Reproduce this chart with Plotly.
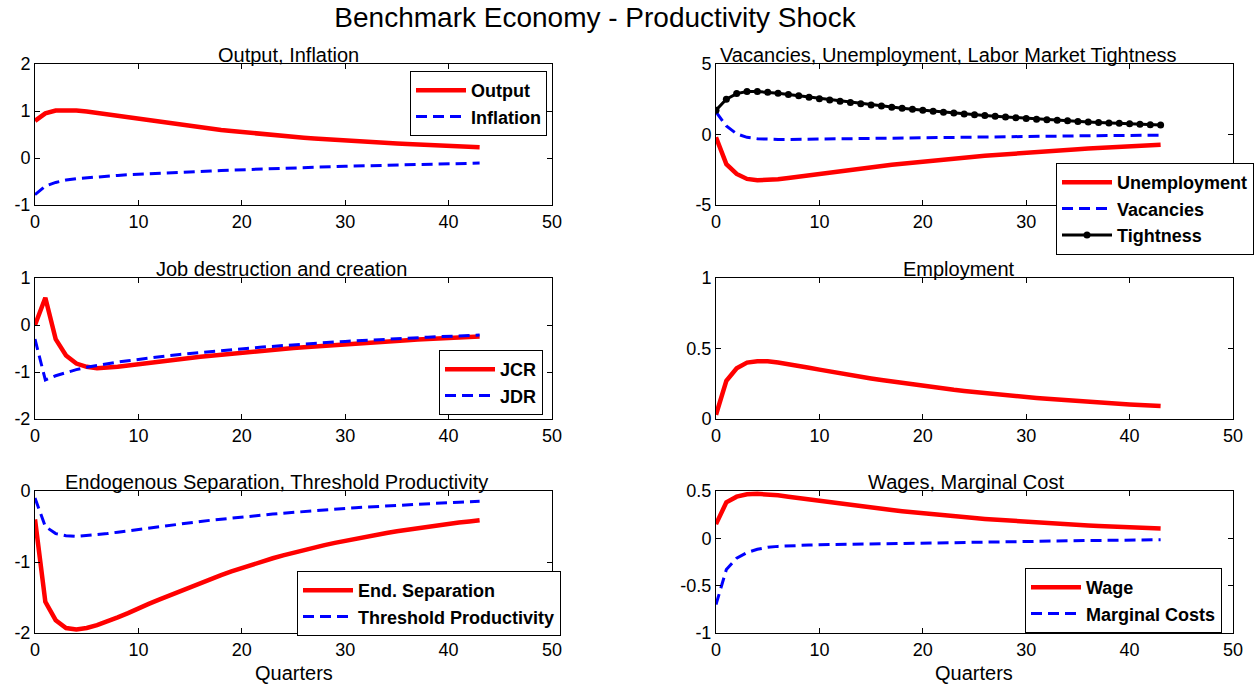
import plotly.graph_objects as go

quarters = list(range(44))

output = [0.79, 0.95, 1.01, 1.02, 1.01, 0.99, 0.96, 0.93, 0.895, 0.858, 0.82, 0.788, 0.757, 0.727, 0.699,
          0.672, 0.645, 0.620, 0.596, 0.573, 0.55, 0.529, 0.508, 0.488, 0.469, 0.451, 0.433, 0.416, 0.400,
          0.385, 0.37, 0.357, 0.344, 0.331, 0.319, 0.308, 0.297, 0.286, 0.276, 0.266, 0.256, 0.247, 0.238, 0.23]
inflation = [-0.78, -0.60, -0.52, -0.47, -0.44, -0.42, -0.40, -0.385, -0.37, -0.357, -0.345, -0.334, -0.323,
             -0.313, -0.303, -0.293, -0.284, -0.275, -0.266, -0.257, -0.248, -0.240, -0.232, -0.224, -0.217,
             -0.210, -0.203, -0.196, -0.189, -0.182, -0.176, -0.170, -0.164, -0.158, -0.152, -0.146, -0.141,
             -0.136, -0.131, -0.126, -0.121, -0.116, -0.112, -0.108]

unemployment = [-0.20, -2.10, -2.80, -3.15, -3.25, -3.25, -3.18, -3.08, -2.98, -2.88, -2.78, -2.68, -2.59,
                -2.50, -2.41, -2.32, -2.23, -2.15, -2.07, -1.99, -1.91, -1.84, -1.77, -1.70, -1.63, -1.57,
                -1.51, -1.45, -1.39, -1.34, -1.28, -1.23, -1.18, -1.13, -1.09, -1.04, -1.00, -0.96, -0.92,
                -0.88, -0.84, -0.80, -0.77, -0.73]
vacancies = [1.60, 0.60, 0.05, -0.20, -0.30, -0.34, -0.35, -0.35, -0.34, -0.33, -0.32, -0.31, -0.30, -0.29,
             -0.28, -0.27, -0.26, -0.25, -0.24, -0.23, -0.22, -0.21, -0.20, -0.19, -0.18, -0.17, -0.16,
             -0.15, -0.14, -0.13, -0.12, -0.11, -0.11, -0.10, -0.09, -0.09, -0.08, -0.08, -0.07, -0.07,
             -0.06, -0.06, -0.05, -0.05]
tightness = [1.72, 2.50, 2.90, 3.05, 3.05, 3.00, 2.92, 2.83, 2.74, 2.64, 2.54, 2.45, 2.36, 2.27, 2.18, 2.10,
             2.02, 1.94, 1.86, 1.79, 1.72, 1.65, 1.58, 1.52, 1.46, 1.40, 1.34, 1.29, 1.24, 1.19, 1.14, 1.09,
             1.05, 1.01, 0.97, 0.93, 0.89, 0.85, 0.82, 0.79, 0.76, 0.73, 0.70, 0.67]

jcr = [0.00, 0.58, -0.30, -0.65, -0.82, -0.89, -0.92, -0.91, -0.89, -0.86, -0.83, -0.80, -0.775, -0.75,
       -0.725, -0.70, -0.676, -0.653, -0.631, -0.609, -0.588, -0.567, -0.547, -0.528, -0.509, -0.491,
       -0.473, -0.456, -0.439, -0.423, -0.407, -0.392, -0.377, -0.363, -0.349, -0.336, -0.323, -0.311,
       -0.299, -0.287, -0.276, -0.265, -0.255, -0.245]
jdr = [-0.30, -1.17, -1.08, -1.01, -0.95, -0.90, -0.86, -0.82, -0.79, -0.76, -0.73, -0.70, -0.675, -0.65,
       -0.627, -0.605, -0.584, -0.563, -0.543, -0.524, -0.505, -0.487, -0.469, -0.452, -0.436, -0.420,
       -0.405, -0.390, -0.376, -0.362, -0.349, -0.336, -0.324, -0.312, -0.301, -0.290, -0.279, -0.269,
       -0.259, -0.249, -0.240, -0.231, -0.222, -0.214]

employment = [0.03, 0.27, 0.36, 0.40, 0.41, 0.41, 0.40, 0.39, 0.377, 0.364, 0.35, 0.336, 0.323, 0.311, 0.299,
              0.287, 0.276, 0.265, 0.255, 0.245, 0.235, 0.225, 0.216, 0.207, 0.199, 0.191, 0.183, 0.175, 0.168,
              0.161, 0.155, 0.149, 0.143, 0.137, 0.132, 0.126, 0.121, 0.117, 0.112, 0.108, 0.103, 0.099,
              0.095, 0.092]

end_separation = [-0.40, -1.56, -1.82, -1.93, -1.95, -1.93, -1.89, -1.84, -1.78, -1.72, -1.65, -1.59, -1.53,
                  -1.47, -1.41, -1.35, -1.295, -1.24, -1.185, -1.133, -1.083, -1.035, -0.99, -0.947, -0.906,
                  -0.867, -0.83, -0.795, -0.762, -0.73, -0.70, -0.671, -0.643, -0.617, -0.592, -0.568, -0.545,
                  -0.523, -0.502, -0.482, -0.463, -0.445, -0.428, -0.412]
threshold = [-0.10, -0.50, -0.60, -0.63, -0.64, -0.63, -0.62, -0.60, -0.58, -0.56, -0.54, -0.52, -0.50, -0.482,
             -0.464, -0.446, -0.429, -0.412, -0.396, -0.381, -0.366, -0.352, -0.338, -0.325, -0.312, -0.300,
             -0.288, -0.277, -0.266, -0.256, -0.246, -0.236, -0.227, -0.218, -0.209, -0.201, -0.193, -0.185,
             -0.178, -0.171, -0.164, -0.157, -0.151, -0.145]

wage = [0.15, 0.38, 0.44, 0.465, 0.47, 0.465, 0.455, 0.44, 0.425, 0.41, 0.395, 0.38, 0.365, 0.35, 0.337,
        0.324, 0.311, 0.299, 0.287, 0.275, 0.264, 0.253, 0.243, 0.233, 0.223, 0.214, 0.205, 0.197, 0.189,
        0.181, 0.174, 0.167, 0.160, 0.154, 0.148, 0.142, 0.136, 0.131, 0.126, 0.121, 0.116, 0.112, 0.108, 0.104]
marginal_costs = [-0.70, -0.33, -0.21, -0.15, -0.115, -0.095, -0.085, -0.078, -0.074, -0.071, -0.068, -0.066,
                  -0.064, -0.062, -0.060, -0.058, -0.056, -0.054, -0.052, -0.050, -0.048, -0.046, -0.044,
                  -0.042, -0.041, -0.039, -0.037, -0.036, -0.034, -0.033, -0.031, -0.030, -0.028, -0.027,
                  -0.026, -0.024, -0.023, -0.022, -0.021, -0.019, -0.018, -0.017, -0.016, -0.015]

main_title = "Benchmark Economy - Productivity Shock"
panel_titles = ["Output, Inflation", "Vacancies, Unemployment, Labor Market Tightness",
                "Job destruction and creation", "Employment",
                "Endogenous Separation, Threshold Productivity", "Wages, Marginal Cost"]
x_ticks = [0, 10, 20, 30, 40, 50]
x_ticktext = ["0", "10", "20", "30", "40", "50"]
# in the tightness panel the "40" label sits hidden behind the legend box
x_ticktext_panel2 = ["0", "10", "20", "30", "", "50"]
y_ticks = [[-1, 0, 1, 2], [-5, 0, 5], [-2, -1, 0, 1], [0, 0.5, 1], [-2, -1, 0], [-1, -0.5, 0, 0.5]]
y_ticktext = [["-1", "0", "1", "2"], ["-5", "0", "5"], ["-2", "-1", "0", "1"], ["0", "0.5", "1"],
              ["-2", "-1", "0"], ["-1", "-0.5", "0", "0.5"]]

FONT = "Liberation Sans, Arial, sans-serif"
RED = "#ff0000"
BLUE = "#0000ff"
DASH = "11px,6px"

fig = go.Figure()


def solid(y, name, ax, leg):
    fig.add_trace(go.Scatter(x=quarters, y=y, name=name, mode="lines",
                             line=dict(color=RED, width=4.5), xaxis="x" + ax, yaxis="y" + ax, legend=leg))


def dashed(y, name, ax, leg):
    fig.add_trace(go.Scatter(x=quarters, y=y, name=name, mode="lines",
                             line=dict(color=BLUE, width=3, dash=DASH), xaxis="x" + ax, yaxis="y" + ax,
                             legend=leg))


solid(output, "Output", "", "legend")
dashed(inflation, "Inflation", "", "legend")

solid(unemployment, "Unemployment", "2", "legend2")
dashed(vacancies, "Vacancies", "2", "legend2")
fig.add_trace(go.Scatter(x=quarters, y=tightness, name="Tightness", mode="lines+markers",
                         line=dict(color="black", width=3), marker=dict(color="black", size=7),
                         xaxis="x2", yaxis="y2", legend="legend2"))

solid(jcr, "JCR", "3", "legend3")
dashed(jdr, "JDR", "3", "legend3")

fig.add_trace(go.Scatter(x=quarters, y=employment, name="Employment", mode="lines",
                         line=dict(color=RED, width=4.5), xaxis="x4", yaxis="y4", showlegend=False))

solid(end_separation, "End. Separation", "5", "legend5")
dashed(threshold, "Threshold Productivity", "5", "legend5")

solid(wage, "Wage", "6", "legend6")
dashed(marginal_costs, "Marginal Costs", "6", "legend6")

W, H = 1257, 688
x_dom = [[35 / W, 552 / W], [716 / W, 1233 / W]]
y_dom = [[1 - 205 / H, 1 - 64 / H], [1 - 419 / H, 1 - 278 / H], [1 - 633 / H, 1 - 491 / H]]
title_centers = [288, 948, 281, 959, 276, 966]

layout = dict(
    width=W, height=H, autosize=False,
    margin=dict(l=0, r=0, t=0, b=0, pad=0, autoexpand=False),
    paper_bgcolor="white", plot_bgcolor="white",
    font=dict(family=FONT, color="black"),
    title=dict(text=main_title, x=595 / W, y=1 - 17 / H, xanchor="center", yanchor="middle",
               font=dict(size=28, family=FONT, color="black")),
)

annotations = []
for i in range(6):
    r, c = divmod(i, 2)
    suffix = "" if i == 0 else str(i + 1)
    layout["xaxis" + suffix] = dict(
        domain=x_dom[c], range=[0, 50], tickvals=x_ticks,
        ticktext=x_ticktext_panel2 if i == 1 else x_ticktext,
        showgrid=False, zeroline=False, showline=True, linecolor="black", linewidth=1,
        mirror="ticks", ticks="inside", ticklen=5, tickcolor="black", automargin=False,
        tickfont=dict(size=18, family=FONT), anchor="y" + suffix, fixedrange=True)
    yr = [y_ticks[i][0], y_ticks[i][-1]]
    layout["yaxis" + suffix] = dict(
        domain=y_dom[r], range=yr, tickvals=y_ticks[i], ticktext=y_ticktext[i],
        showgrid=False, zeroline=False, showline=True, linecolor="black", linewidth=1,
        mirror="ticks", ticks="inside", ticklen=5, tickcolor="black", automargin=False,
        tickfont=dict(size=18, family=FONT), anchor="x" + suffix, fixedrange=True)
    annotations.append(dict(text=panel_titles[i], x=title_centers[i] / W, y=y_dom[r][1],
                            xref="paper", yref="paper", xanchor="center", yanchor="bottom",
                            showarrow=False, yshift=-4, font=dict(size=20, family=FONT, color="black")))

for c in range(2):
    annotations.append(dict(text="Quarters", x=sum(x_dom[c]) / 2, y=1 - 673 / H, xref="paper", yref="paper",
                            xanchor="center", yanchor="middle", showarrow=False,
                            font=dict(size=20, family=FONT, color="black")))
layout["annotations"] = annotations

leg_common = dict(bgcolor="white", bordercolor="black", borderwidth=1, itemwidth=50,
                  font=dict(size=18, family=FONT, color="black", weight="bold"),
                  xanchor="right", yanchor="top", tracegroupgap=0, itemclick=False, itemdoubleclick=False)
layout["legend"] = dict(leg_common, x=547 / W, y=1 - 71 / H)
layout["legend2"] = dict(leg_common, x=1254 / W, y=1 - 163 / H)
layout["legend3"] = dict(leg_common, x=543 / W, y=1 - 350 / H)
layout["legend5"] = dict(leg_common, x=561 / W, y=1 - 571 / H)
layout["legend6"] = dict(leg_common, x=1222 / W, y=1 - 568 / H)

fig.update_layout(**layout)
fig.write_html("out.html", config=dict(displayModeBar=False, staticPlot=True),
               post_script="document.body.style.margin='0';")
